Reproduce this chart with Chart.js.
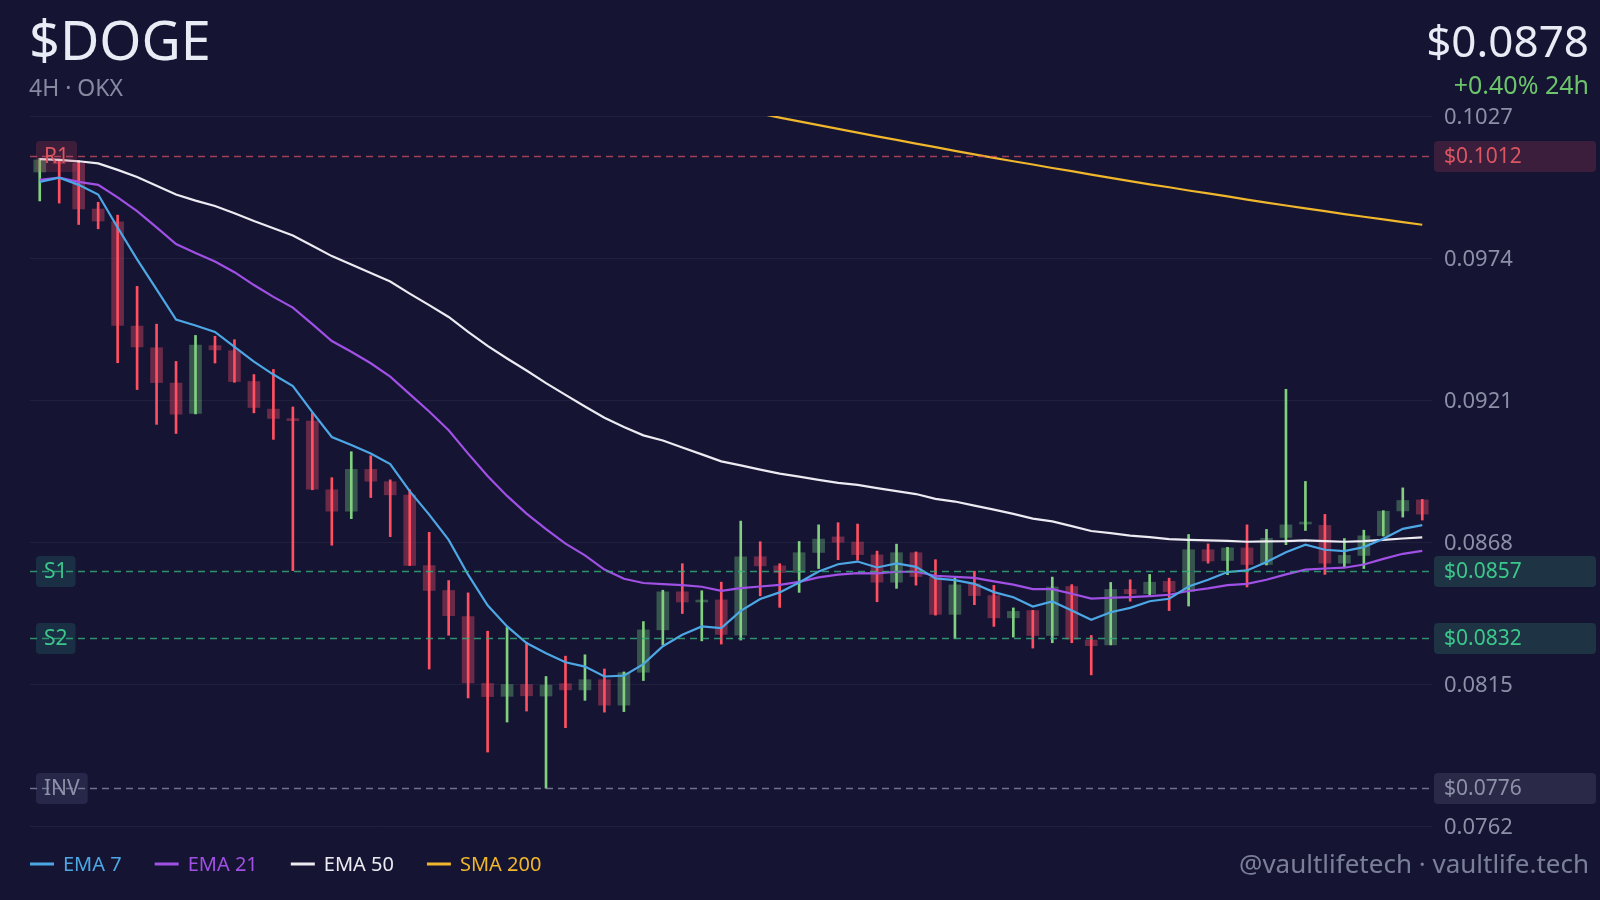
<!DOCTYPE html>
<html>
<head>
<meta charset="utf-8">
<script src="https://cdn.jsdelivr.net/npm/chart.js@4.4.1/dist/chart.umd.min.js"></script>
<style>
  html, body { margin: 0; padding: 0; background: #151433; }
  canvas { display: block; }
</style>
</head>
<body>
<canvas id="grafico" width="1600" height="900"></canvas>
<script>
// candles 4H (72 velas)
const abertura = [0.10061,0.10106,0.10093,0.09923,0.09875,0.09486,0.09405,0.09273,0.09160,0.09413,
  0.09394,0.09279,0.09176,0.09136,0.09131,0.08875,0.08795,0.08951,0.08905,0.08855,
  0.08592,0.08499,0.08402,0.08152,0.08104,0.08148,0.08105,0.08151,0.08128,0.08166,
  0.08071,0.08194,0.08352,0.08494,0.08456,0.08464,0.08332,0.08625,0.08591,0.08566,
  0.08641,0.08699,0.08680,0.08632,0.08530,0.08640,0.08548,0.08410,0.08524,0.08480,
  0.08397,0.08424,0.08331,0.08514,0.08314,0.08296,0.08503,0.08487,0.08533,0.08495,
  0.08651,0.08611,0.08658,0.08596,0.08697,0.08747,0.08742,0.08601,0.08630,0.08704,
  0.08796,0.08837];
const maxima = [0.10112,0.10109,0.10104,0.09948,0.09900,0.09634,0.09493,0.09354,0.09451,0.09448,
  0.09435,0.09305,0.09324,0.09184,0.09162,0.08920,0.09017,0.09002,0.08912,0.08875,
  0.08716,0.08536,0.08490,0.08347,0.08362,0.08306,0.08178,0.08254,0.08259,0.08206,
  0.08195,0.08383,0.08500,0.08599,0.08498,0.08530,0.08758,0.08681,0.08599,0.08682,
  0.08744,0.08752,0.08747,0.08646,0.08672,0.08643,0.08614,0.08545,0.08571,0.08518,
  0.08434,0.08425,0.08549,0.08521,0.08331,0.08529,0.08539,0.08559,0.08545,0.08708,
  0.08673,0.08660,0.08744,0.08727,0.09250,0.08906,0.08783,0.08693,0.08724,0.08797,
  0.08882,0.08839];
const minimas = [0.09953,0.09945,0.09865,0.09849,0.09349,0.09249,0.09119,0.09085,0.09158,0.09348,
  0.09276,0.09162,0.09063,0.08573,0.08875,0.08668,0.08767,0.08846,0.08700,0.08592,
  0.08206,0.08332,0.08098,0.07896,0.08008,0.08049,0.07761,0.07987,0.08089,0.08045,
  0.08047,0.08163,0.08296,0.08413,0.08311,0.08299,0.08314,0.08479,0.08436,0.08492,
  0.08581,0.08614,0.08612,0.08457,0.08507,0.08519,0.08407,0.08319,0.08446,0.08365,
  0.08325,0.08284,0.08304,0.08304,0.08184,0.08296,0.08459,0.08478,0.08424,0.08441,
  0.08601,0.08558,0.08512,0.08594,0.08670,0.08723,0.08559,0.08586,0.08581,0.08702,
  0.08773,0.08762];
const fechamento = [0.10106,0.10092,0.09923,0.09878,0.09488,0.09408,0.09275,0.09157,0.09415,0.09397,
  0.09279,0.09182,0.09141,0.09133,0.08877,0.08795,0.08951,0.08907,0.08856,0.08593,
  0.08499,0.08405,0.08154,0.08103,0.08148,0.08106,0.08146,0.08128,0.08166,0.08071,
  0.08192,0.08352,0.08494,0.08456,0.08461,0.08335,0.08625,0.08591,0.08566,0.08640,
  0.08691,0.08679,0.08633,0.08530,0.08640,0.08551,0.08410,0.08520,0.08480,0.08397,
  0.08421,0.08331,0.08512,0.08317,0.08293,0.08503,0.08487,0.08530,0.08495,0.08651,
  0.08609,0.08658,0.08596,0.08694,0.08744,0.08748,0.08601,0.08630,0.08703,0.08795,
  0.08835,0.08784];

// médias
const ema7 = [0.10024,0.10040,0.10013,0.09977,0.09854,0.09735,0.09623,0.09510,0.09488,0.09464,
  0.09408,0.09353,0.09305,0.09262,0.09165,0.09072,0.09042,0.09010,0.08971,0.08870,
  0.08782,0.08688,0.08558,0.08444,0.08365,0.08303,0.08265,0.08231,0.08215,0.08178,
  0.08181,0.08224,0.08291,0.08334,0.08365,0.08359,0.08423,0.08467,0.08492,0.08529,
  0.08570,0.08597,0.08607,0.08585,0.08600,0.08587,0.08544,0.08538,0.08524,0.08493,
  0.08474,0.08439,0.08458,0.08424,0.08390,0.08418,0.08434,0.08459,0.08468,0.08514,
  0.08539,0.08568,0.08574,0.08605,0.08642,0.08670,0.08651,0.08646,0.08661,0.08692,
  0.08729,0.08743];
const ema21 = [0.10032,0.10040,0.10024,0.10013,0.09966,0.09915,0.09854,0.09792,0.09759,0.09727,
  0.09687,0.09639,0.09595,0.09555,0.09493,0.09430,0.09390,0.09347,0.09297,0.09232,
  0.09167,0.09097,0.09010,0.08926,0.08852,0.08786,0.08728,0.08674,0.08630,0.08577,
  0.08543,0.08527,0.08523,0.08519,0.08513,0.08498,0.08508,0.08514,0.08520,0.08531,
  0.08548,0.08558,0.08564,0.08563,0.08569,0.08569,0.08554,0.08550,0.08546,0.08533,
  0.08521,0.08504,0.08504,0.08487,0.08469,0.08472,0.08474,0.08478,0.08483,0.08497,
  0.08507,0.08519,0.08524,0.08539,0.08559,0.08577,0.08581,0.08584,0.08596,0.08617,
  0.08636,0.08647];
const ema50 = [0.10109,0.10106,0.10101,0.10093,0.10069,0.10042,0.10010,0.09977,0.09954,0.09934,
  0.09907,0.09878,0.09851,0.09824,0.09786,0.09747,0.09716,0.09684,0.09652,0.09607,
  0.09564,0.09520,0.09464,0.09412,0.09365,0.09320,0.09273,0.09229,0.09186,0.09144,
  0.09109,0.09078,0.09059,0.09033,0.09007,0.08981,0.08966,0.08950,0.08935,0.08924,
  0.08912,0.08901,0.08893,0.08881,0.08870,0.08859,0.08841,0.08831,0.08816,0.08801,
  0.08785,0.08767,0.08757,0.08739,0.08721,0.08713,0.08704,0.08698,0.08691,0.08688,
  0.08686,0.08684,0.08681,0.08682,0.08683,0.08686,0.08683,0.08681,0.08683,0.08688,
  0.08693,0.08697];
const sma200 = [null,null,null,null,null,null,null,null,null,null,
  null,null,null,null,null,null,null,null,null,null,
  null,null,null,null,null,null,null,null,null,null,
  null,null,null,null,null,null,0.10293,0.10279,0.10264,0.10250,
  0.10236,0.10222,0.10208,0.10194,0.10181,0.10167,0.10154,0.10140,0.10127,0.10114,
  0.10101,0.10089,0.10076,0.10064,0.10051,0.10039,0.10027,0.10015,0.10004,0.09992,
  0.09981,0.09970,0.09958,0.09947,0.09936,0.09925,0.09915,0.09904,0.09894,0.09884,
  0.09874,0.09864];

const velas = abertura.map((v, i) => 'v' + (i + 1));
const precoTicks = [0.0762, 0.0815, 0.0868, 0.0921, 0.0974, 0.1027];

// níveis
const niveisNomes = ['R1', 'S1', 'S2', 'INV'];
const niveisValores = [0.1012, 0.0857, 0.0832, 0.0776];
const niveisCores = [
  { linha: 'rgba(215,85,100,0.7)', texto: '#dc5662', tag: 'rgba(200,70,90,0.22)', caixa: '#3a1e3b' },
  { linha: 'rgba(55,175,125,0.8)', texto: '#3cc78c', tag: 'rgba(60,200,170,0.15)', caixa: '#1e3343' },
  { linha: 'rgba(55,175,125,0.8)', texto: '#3cc78c', tag: 'rgba(60,200,170,0.15)', caixa: '#1e3343' },
  { linha: 'rgba(140,145,170,0.75)', texto: '#8d92a8', tag: 'rgba(150,150,200,0.15)', caixa: '#2a2a48' }
];

const FONTE = '"Noto Sans", "Open Sans", sans-serif';

let corCorpo = [];
let corPavio = [];
for (let i = 0; i < abertura.length; i++) {
  if (fechamento[i] >= abertura[i]) {
    corCorpo.push('rgba(120,200,130,0.36)');
    corPavio.push('#80d07e');
  } else {
    corCorpo.push('rgba(240,80,105,0.38)');
    corPavio.push('#ff4f60');
  }
}

function caixaRedonda(ctx, x, y, w, h, r, cor) {
  ctx.beginPath();
  ctx.moveTo(x + r, y);
  ctx.arcTo(x + w, y, x + w, y + h, r);
  ctx.arcTo(x + w, y + h, x, y + h, r);
  ctx.arcTo(x, y + h, x, y, r);
  ctx.arcTo(x, y, x + w, y, r);
  ctx.closePath();
  ctx.fillStyle = cor;
  ctx.fill();
}

const pluginNiveis = {
  id: 'niveis',
  afterDatasetsDraw(chart) {
    const ctx = chart.ctx;
    const area = chart.chartArea;
    const y = chart.scales.y;
    ctx.save();
    ctx.textBaseline = 'middle';
    for (let i = 0; i < niveisNomes.length; i++) {
      const py = Math.round(y.getPixelForValue(niveisValores[i])) + 0.5;
      const c = niveisCores[i];
      // etiqueta esquerda
      ctx.font = '21px ' + FONTE;
      const w = ctx.measureText(niveisNomes[i]).width + 16;
      caixaRedonda(ctx, 36, py - 15.5, w, 31, 4, c.tag);
      ctx.fillStyle = c.texto;
      ctx.textAlign = 'left';
      ctx.fillText(niveisNomes[i], 44, py + 1);
      // linha tracejada
      ctx.strokeStyle = c.linha;
      ctx.lineWidth = 1.5;
      ctx.setLineDash([7, 5]);
      ctx.beginPath();
      ctx.moveTo(area.left, py);
      ctx.lineTo(area.right, py);
      ctx.stroke();
      ctx.setLineDash([]);
      // caixa de preço à direita
      caixaRedonda(ctx, area.right + 2, py - 15.5, 162, 31, 4, c.caixa);
      ctx.font = '21px ' + FONTE;
      ctx.fillStyle = c.texto;
      ctx.fillText('$' + niveisValores[i].toFixed(4), area.right + 12, py + 1);
    }
    ctx.restore();
  }
};

const pluginTextos = {
  id: 'textos',
  afterDraw(chart) {
    const ctx = chart.ctx;
    ctx.save();
    ctx.textBaseline = 'alphabetic';
    ctx.textAlign = 'left';
    ctx.fillStyle = '#e8ecf5';
    ctx.font = '54px ' + FONTE;
    ctx.fillText('$DOGE', 29, 60);
    ctx.fillStyle = '#858aa0';
    ctx.font = '23px ' + FONTE;
    ctx.fillText('4H · OKX', 29, 96);

    ctx.textAlign = 'right';
    ctx.fillStyle = '#e8ecf5';
    ctx.font = '44px ' + FONTE;
    ctx.fillText('$0.0878', 1589, 57);
    ctx.fillStyle = '#6cc46b';
    ctx.font = '25px ' + FONTE;
    ctx.fillText('+0.40% 24h', 1589, 94);

    ctx.fillStyle = '#7b8099';
    ctx.font = '26px ' + FONTE;
    ctx.fillText('@vaultlifetech · vaultlife.tech', 1589, 873);

    // legenda
    ctx.textAlign = 'left';
    ctx.font = '20px ' + FONTE;
    let x = 30;
    chart.data.datasets.forEach(ds => {
      if (ds.type !== 'line') return;
      ctx.strokeStyle = ds.borderColor;
      ctx.lineWidth = 3;
      ctx.beginPath();
      ctx.moveTo(x, 864);
      ctx.lineTo(x + 24, 864);
      ctx.stroke();
      ctx.fillStyle = ds.borderColor;
      ctx.fillText(ds.label, x + 33, 871);
      x += 33 + ctx.measureText(ds.label).width + 33;
    });
    ctx.restore();
  }
};

const dados = {
  labels: velas,
  datasets: [
    { type: 'line', label: 'EMA 7', data: ema7, borderColor: '#4da7e4', borderWidth: 2.2, pointRadius: 0, tension: 0, order: 1 },
    { type: 'line', label: 'EMA 21', data: ema21, borderColor: '#a050e4', borderWidth: 2.2, pointRadius: 0, tension: 0, order: 2 },
    { type: 'line', label: 'EMA 50', data: ema50, borderColor: '#ecebf2', borderWidth: 2.2, pointRadius: 0, tension: 0, order: 3 },
    { type: 'line', label: 'SMA 200', data: sma200, borderColor: '#f0b62c', borderWidth: 2.2, pointRadius: 0, tension: 0, order: 0 },
    { type: 'bar', label: 'pavio', data: minimas.map((l, i) => [l, maxima[i]]), backgroundColor: corPavio, barThickness: 2, grouped: false, order: 5 },
    { type: 'bar', label: 'corpo', data: abertura.map((o, i) => [o, fechamento[i]]), backgroundColor: corCorpo, barThickness: 12, grouped: false, minBarLength: 2, order: 6 }
  ]
};

const config = {
  type: 'bar',
  data: dados,
  options: {
    responsive: false,
    animation: false,
    devicePixelRatio: 1,
    layout: { padding: { left: 30, top: 116, right: 0, bottom: 74 } },
    plugins: { legend: { display: false }, tooltip: { enabled: false } },
    scales: {
      x: { display: false, offset: true, grid: { display: false } },
      y: {
        position: 'right',
        min: 0.0762,
        max: 0.1027,
        afterBuildTicks: (s) => { s.ticks = precoTicks.map(v => ({ value: v })); },
        afterFit: (s) => { s.width = 168; },
        grid: { color: 'rgba(255,255,255,0.05)', drawTicks: false },
        border: { display: false },
        ticks: {
          color: '#8b90a6',
          padding: 12,
          labelOffset: 2,
          font: { family: FONTE, size: 22 },
          callback: (v) => Number(v).toFixed(4)
        }
      }
    }
  },
  plugins: [pluginNiveis, pluginTextos]
};

var meuGrafico = new Chart(document.getElementById('grafico'), config);
</script>
</body>
</html>
